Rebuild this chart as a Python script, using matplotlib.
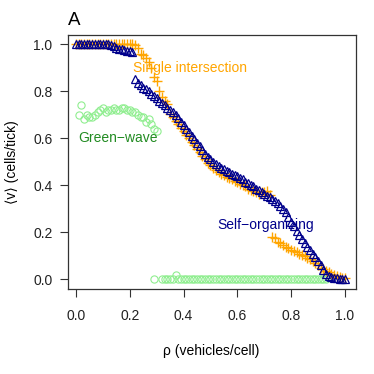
import numpy as np
import matplotlib
matplotlib.use("Agg")
import matplotlib.pyplot as plt

plt.rcParams["font.family"] = ["Liberation Sans", "DejaVu Sans"]

# ── Data ───────────────────────────────────────────────────────────────────
rho = np.round(np.arange(0, 101) * 0.01, 2)

v_self = [
    1.0, 1.0, 1.0, 1.0, 1.0, 1.0, 1.0, 1.0, 1.0, 1.0,
    1.0, 1.0, 1.0, 0.995, 0.99, 0.985, 0.98, 0.98, 0.975, 0.97,
    0.97, 0.965, 0.85, 0.835, 0.825, 0.815, 0.81, 0.80, 0.79, 0.78,
    0.77, 0.76, 0.75, 0.74, 0.73, 0.72, 0.71, 0.70, 0.685, 0.67,
    0.655, 0.64, 0.625, 0.61, 0.595, 0.58, 0.565, 0.55, 0.535, 0.52,
    0.51, 0.50, 0.49, 0.48, 0.475, 0.47, 0.46, 0.455, 0.45, 0.445,
    0.44, 0.43, 0.425, 0.415, 0.41, 0.40, 0.395, 0.385, 0.38, 0.37,
    0.365, 0.355, 0.35, 0.34, 0.335, 0.325, 0.31, 0.30, 0.285, 0.265,
    0.245, 0.225, 0.205, 0.19, 0.17, 0.155, 0.14, 0.125, 0.11, 0.095,
    0.08, 0.06, 0.04, 0.025, 0.015, 0.01, 0.005, 0.005, 0.003, 0.002,
    0.0,
]

v_single = [
    1.0, 1.0, 1.0, 1.0, 1.0, 1.0, 1.0, 1.0, 1.0, 1.0,
    1.0, 1.0, 1.0, 1.0, 1.0, 1.0, 1.0, 1.0, 1.0, 1.0,
    1.0, 1.0, 0.995, 0.985, 0.96, 0.955, 0.94, 0.925, 0.90, 0.86,
    0.845, 0.80, 0.775, 0.76, 0.745, 0.705, 0.69, 0.675, 0.66, 0.645,
    0.63, 0.615, 0.60, 0.585, 0.57, 0.555, 0.54, 0.525, 0.51, 0.495,
    0.485, 0.475, 0.465, 0.455, 0.45, 0.445, 0.435, 0.43, 0.425, 0.42,
    0.415, 0.405, 0.40, 0.395, 0.385, 0.38, 0.375, 0.37, 0.365, 0.37,
    0.37, 0.375, 0.36, 0.18, 0.175, 0.16, 0.155, 0.145, 0.14, 0.135,
    0.125, 0.12, 0.115, 0.11, 0.105, 0.10, 0.09, 0.085, 0.077, 0.07,
    0.06, 0.05, 0.045, 0.035, 0.03, 0.025, 0.02, 0.015, 0.012, 0.008,
    0.005,
]

rho_green_hi = rho[1:31]
v_green_hi = [
    0.70, 0.74, 0.68, 0.70, 0.69, 0.69, 0.70, 0.71, 0.72, 0.73,
    0.71, 0.72, 0.72, 0.73, 0.72, 0.72, 0.73, 0.73, 0.72, 0.72,
    0.71, 0.71, 0.70, 0.69, 0.69, 0.67, 0.68, 0.66, 0.64, 0.63,
]

rho_green_lo = np.concatenate([[0.29], rho[32:94]])
v_green_lo = [
    0.0,
    0.0, 0.0, 0.0, 0.0, 0.0, 0.02, 0.0, 0.0, 0.0, 0.0,
    0.0, 0.0, 0.0, 0.0, 0.0, 0.0, 0.0, 0.0, 0.0, 0.0,
    0.0, 0.0, 0.0, 0.0, 0.0, 0.0, 0.0, 0.0, 0.0, 0.0,
    0.0, 0.0, 0.0, 0.0, 0.0, 0.0, 0.0, 0.0, 0.0, 0.0,
    0.0, 0.0, 0.0, 0.0, 0.0, 0.0, 0.0, 0.0, 0.0, 0.0,
    0.0, 0.0, 0.0, 0.0, 0.0, 0.0, 0.0, 0.0, 0.0, 0.0,
    0.0, 0.0,
]

xticks = [0.0, 0.2, 0.4, 0.6, 0.8, 1.0]
yticks = [0.0, 0.2, 0.4, 0.6, 0.8, 1.0]

GREEN = "#90EE90"
ORANGE = "#FFA500"
NAVY = "#00008B"

# ── Figure ─────────────────────────────────────────────────────────────────
fig = plt.figure(figsize=(3.74, 3.74), dpi=100)
ax = fig.add_axes([0.181, 0.227, 0.770, 0.679])

ax.plot(rho_green_hi, v_green_hi, "o", ms=5.2, mfc="none", mec=GREEN, mew=0.8)
ax.plot(rho_green_lo, v_green_lo, "o", ms=5.2, mfc="none", mec=GREEN, mew=0.8)
ax.plot(rho, v_single, "+", ms=7.5, mec=ORANGE, mew=1.0)
ax.plot(rho, v_self, "^", ms=6.2, mfc="none", mec=NAVY, mew=0.9)

ax.text(0.212, 0.90, "Single intersection", color=ORANGE, fontsize=10,
        ha="left", va="center")
ax.text(0.007, 0.60, "Green\u2212wave", color="#228B22", fontsize=10,
        ha="left", va="center")
ax.text(0.524, 0.23, "Self\u2212organizing", color=NAVY, fontsize=10,
        ha="left", va="center")

ax.set_xlim(-0.031, 1.040)
ax.set_ylim(-0.041, 1.038)
ax.set_xticks(xticks)
ax.set_yticks(yticks)
ax.set_xticklabels([f"{t:.1f}" for t in xticks])
ax.set_yticklabels([f"{t:.1f}" for t in yticks])
ax.tick_params(axis="both", direction="out", length=6, width=0.8,
               color="#333333", labelsize=10, labelcolor="#222222")
ax.tick_params(axis="x", pad=8)
ax.tick_params(axis="y", pad=5)
for sp in ax.spines.values():
    sp.set_color("#333333")
    sp.set_linewidth(0.9)

ax.set_xlabel("\u03c1 (vehicles/cell)", fontsize=10)
ax.set_ylabel("\u27e8v\u27e9 (cells/tick)", fontsize=10)
ax.xaxis.set_label_coords(0.5, -0.215)
ax.yaxis.set_label_coords(-0.17, 0.5)

fig.text(68 / 374, 1 - 25 / 374, "A", fontsize=13.5, ha="left", va="baseline")

fig.savefig("out.png", dpi=100)
plt.close(fig)
